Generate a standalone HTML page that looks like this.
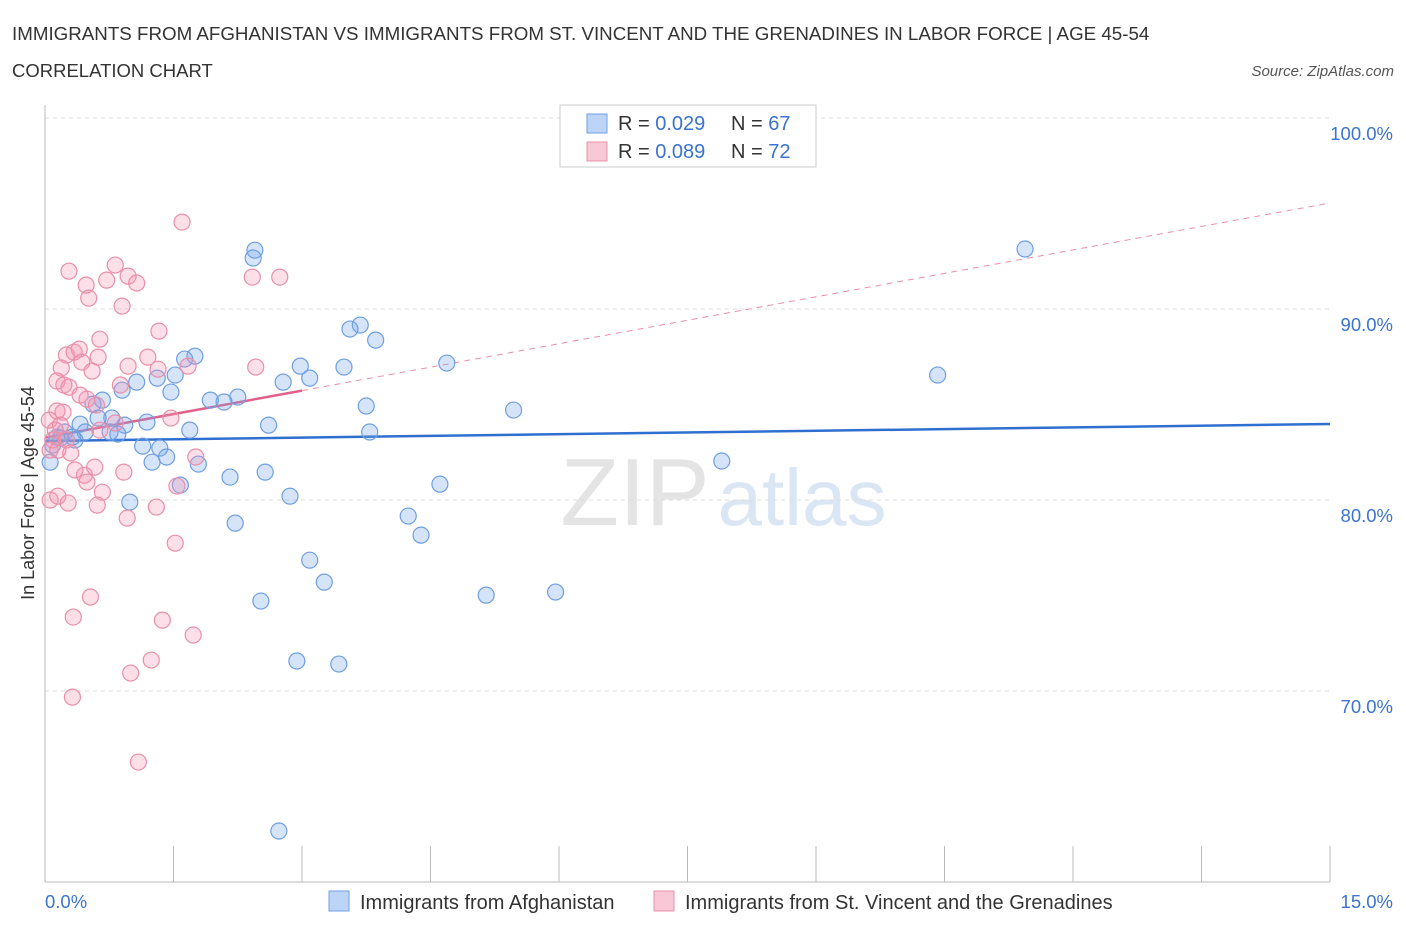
<!DOCTYPE html>
<html><head><meta charset="utf-8"><style>
body{margin:0;background:#fff;font-family:"Liberation Sans",sans-serif;}
svg text{font-family:"Liberation Sans",sans-serif;}
</style></head><body>
<svg id="chart" width="1406" height="930" viewBox="0 0 1406 930" xmlns="http://www.w3.org/2000/svg">
<text x="12" y="40" font-size="18.75" fill="#333">IMMIGRANTS FROM AFGHANISTAN VS IMMIGRANTS FROM ST. VINCENT AND THE GRENADINES IN LABOR FORCE | AGE 45-54</text>
<text x="12" y="77" font-size="18.5" fill="#333">CORRELATION CHART</text>
<text x="1394" y="76" font-size="15" fill="#555" text-anchor="end" font-style="italic">Source: ZipAtlas.com</text>
<g>
<text x="635" y="525" font-size="96" fill="#e4e4e4" text-anchor="middle" font-family="Liberation Serif">ZIP</text>
<text x="802" y="525" font-size="80" fill="#dbe6f5" text-anchor="middle">atlas</text>
</g>
<g id="grid"></g>
<g id="axes"></g>
<g id="trends"></g>
<g id="points"></g>
<text transform="translate(34,493) rotate(-90)" font-size="18" fill="#333" text-anchor="middle">In Labor Force | Age 45-54</text>
<g>
<rect x="560" y="105" width="256" height="62" fill="#fff" stroke="#ccc"/>
<rect x="587" y="114" width="20" height="19" fill="#bcd5f7" stroke="#6f9fe0"/>
<rect x="587" y="142" width="20" height="19" fill="#f9c8d6" stroke="#e890a8"/>
<text x="618" y="130" font-size="20" fill="#333">R = <tspan fill="#3a73d0">0.029</tspan></text>
<text x="731" y="130" font-size="20" fill="#333">N = <tspan fill="#3a73d0">67</tspan></text>
<text x="618" y="158" font-size="20" fill="#333">R = <tspan fill="#3a73d0">0.089</tspan></text>
<text x="731" y="158" font-size="20" fill="#333">N = <tspan fill="#3a73d0">72</tspan></text>
</g>
<g>
<rect x="329" y="891" width="20" height="20" fill="#bcd5f7" stroke="#6f9fe0"/>
<text x="360" y="909" font-size="20" fill="#333">Immigrants from Afghanistan</text>
<rect x="654" y="891" width="20" height="20" fill="#f9c8d6" stroke="#e890a8"/>
<text x="685" y="909" font-size="20" fill="#333">Immigrants from St. Vincent and the Grenadines</text>
</g>
</svg>
<script>
const yTicks=[100,90,80,70];
const yTickLabels=["100.0%","90.0%","80.0%","70.0%"];
const xTicks=[0,1.5,3,4.5,6,7.5,9,10.5,12,13.5,15];
const xEndLabels=["0.0%","15.0%"];
const blueX=[2.45,2.43,11.44,3.68,3.56,3.86,1.75,1.63,2.98,3.49,4.69,10.42,1.52,1.31,1.07,3.09,2.78,0.90,1.47,0.67,2.25,1.93,2.09,3.75,5.47,0.56,0.78,0.62,0.41,0.93,1.19,2.61,1.69,3.79,0.23,0.47,0.76,0.85,0.14,0.32,0.35,1.14,1.34,1.42,1.25,1.79,7.90,2.57,2.16,1.58,4.61,2.86,0.99,4.24,2.22,4.39,3.09,3.26,5.15,5.96,2.52,2.94,3.43,2.73,0.06,0.09,0.18];
const blueY=[93.08,92.67,93.14,89.16,88.95,88.37,87.53,87.38,87.01,86.96,87.17,86.54,86.54,86.38,86.17,86.38,86.17,85.75,85.65,85.23,85.39,85.23,85.13,84.92,84.71,85.02,84.29,84.29,83.97,83.92,84.08,83.92,83.66,83.56,83.56,83.56,83.56,83.45,83.29,83.29,83.14,82.82,82.72,82.25,81.98,81.88,82.04,81.46,81.20,80.78,80.83,80.20,79.89,79.16,78.79,78.16,76.85,75.70,75.02,75.18,74.71,71.57,71.41,62.67,81.98,82.87,83.24];
const pinkX=[1.60,0.82,0.28,0.97,0.72,1.07,2.42,2.74,0.48,0.51,0.90,1.33,0.64,0.40,0.25,0.34,0.62,0.43,1.20,0.97,1.32,0.55,2.46,1.67,0.19,0.14,0.28,0.22,0.41,0.49,0.14,0.21,0.60,0.82,1.47,0.05,0.18,0.09,0.25,0.30,0.06,1.76,0.58,0.92,0.46,0.49,0.67,0.06,0.15,0.27,0.61,1.30,0.96,1.52,0.53,0.33,1.37,1.73,1.24,1.00,0.32,1.09,1.54,0.64,0.12,0.15,0.35,0.88];
const pinkY=[94.55,92.30,91.98,91.72,91.51,91.36,91.67,91.67,91.25,90.57,90.15,88.84,88.42,87.90,87.59,87.74,87.48,87.22,87.48,87.01,86.85,86.75,86.96,87.01,86.91,86.23,85.91,86.02,85.49,85.28,84.66,84.60,84.97,84.03,84.29,84.18,83.92,83.14,83.14,82.46,82.61,82.25,81.72,81.46,81.30,80.94,80.41,80.00,80.20,79.84,79.73,79.63,79.05,77.74,74.92,73.87,73.71,72.93,71.62,70.94,69.68,66.28,80.73,83.66,83.66,82.61,81.57,86.02];
const blueTrend=[83.09,83.98];
const pinkTrend=[83.27,95.55];
const pinkSolidEnd=3;
const NS="http://www.w3.org/2000/svg";
const xS=v=>45+v*(1285/15);
const yS=v=>118+(100-v)*19.1;
function mk(t,a,p){const e=document.createElementNS(NS,t);for(const k in a)e.setAttribute(k,a[k]);p.appendChild(e);return e;}
const grid=document.getElementById('grid'),axes=document.getElementById('axes'),tr=document.getElementById('trends'),pts=document.getElementById('points');
yTicks.forEach((v,i)=>{
 const l=mk('line',{x1:45,x2:1330,y1:yS(v),y2:yS(v),stroke:'#ddd','stroke-dasharray':'4,4'},grid);
 
 
 const t=mk('text',{x:1393,y:yS(v)+22,'font-size':18.5,fill:'#3a73d0','text-anchor':'end'},axes);
 t.textContent=yTickLabels[i];
 
 
});
const ya=mk('line',{x1:45,x2:45,y1:105,y2:882,stroke:'#bbb'},axes);


const xa=mk('line',{x1:45,x2:1330,y1:882,y2:882,stroke:'#bbb'},axes);


xTicks.forEach(v=>{
 const l=mk('line',{x1:xS(v),x2:xS(v),y1:846,y2:882,stroke:'#bbb'},axes);
 
 
});
[[0,'start',45],[15,'end',1393]].forEach((d,i)=>{
 const t=mk('text',{x:d[2],y:908,'font-size':18.5,fill:'#3a73d0','text-anchor':d[1]},axes);
 t.textContent=xEndLabels[i];
 
 
});
function pl(b,a,x0,x1,st,dash,w){const e=mk('line',{x1:xS(x0),y1:yS(b+(a-b)*x0/15),x2:xS(x1),y2:yS(b+(a-b)*x1/15),stroke:st,'stroke-width':w},tr);if(dash)e.setAttribute('stroke-dasharray',dash);return e;}
let e=pl(pinkTrend[0],pinkTrend[1],pinkSolidEnd,15,'#e890a8','6,5',1);


e=pl(pinkTrend[0],pinkTrend[1],0,pinkSolidEnd,'#e0608a',null,2.5);


e=pl(blueTrend[0],blueTrend[1],0,15,'#2f6fd0',null,2.5);


blueX.forEach((x,i)=>{
 const c=mk('circle',{cx:xS(x),cy:yS(blueY[i]),r:8,fill:'rgba(120,165,235,0.3)',stroke:'#6f9fe0','stroke-width':1.2},pts);
 
 
});
pinkX.forEach((x,i)=>{
 const c=mk('circle',{cx:xS(x),cy:yS(pinkY[i]),r:8,fill:'rgba(245,150,180,0.3)',stroke:'#e890a8','stroke-width':1.2},pts);
 
 
});
</script>
</body></html>
